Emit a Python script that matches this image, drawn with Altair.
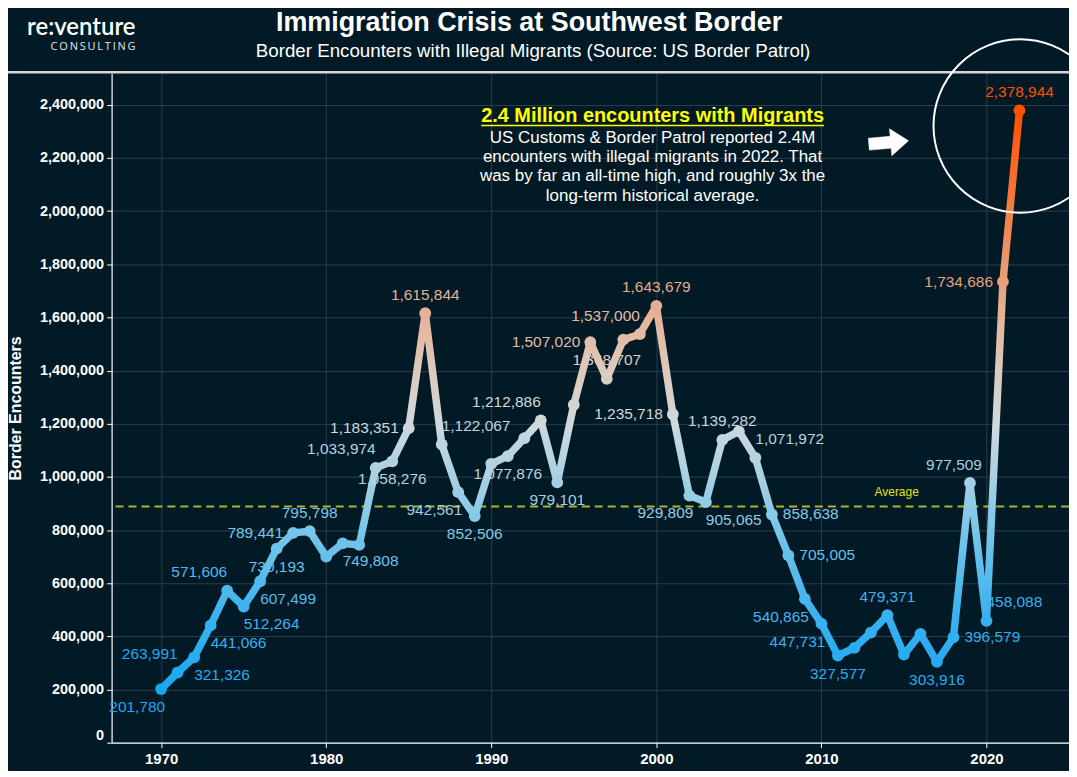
import altair as alt
import pandas as pd

# ---------------- data ----------------
years = list(range(1970, 2023))
encounters = [
    201780, 263991, 321326, 441066, 571606, 512264, 607499, 730193, 789441, 795798,
    700000, 749808, 744000, 1033974, 1058276, 1183351, 1615844, 1122067, 942561, 852506,
    1049321, 1077876, 1145574, 1212886, 979101, 1271390, 1507020, 1368707, 1516680, 1537000,
    1643679, 1235718, 929809, 905065, 1139282, 1171396, 1071972, 858638, 705005, 540865,
    447731, 327577, 356873, 414397, 479371, 331333, 408870, 303916, 396579, 977509,
    458088, 1734686, 2378944,
]
# where each value label sits relative to its point ("" = no label)
label_pos = [
    "bl", "tl", "br", "br", "tl", "br", "br", "b", "l", "t",
    "", "br", "", "tl", "b", "l", "t", "tr", "bl", "b",
    "", "b", "", "tl", "b", "", "l", "t", "", "tl",
    "t", "l", "bl", "br", "t", "", "tr", "r", "r", "bl",
    "bl", "b", "", "", "t", "", "", "b", "r", "tc",
    "tr", "l", "t",
]
y_ticks = list(range(0, 2400001, 200000))
x_ticks = list(range(1970, 2021, 10))

color_values = [200000, 500000, 800000, 1000000, 1200000, 1400000, 1600000, 1750000, 2000000, 2380000]
color_hex = ["#1aa7f2", "#3db3ef", "#79c6ea", "#a9d0e2", "#cfd9dd", "#ddcabc",
             "#e5b49b", "#ea9f77", "#f17f46", "#ff4f00"]

title_text = "Immigration Crisis at Southwest Border"
subtitle_text = "Border Encounters with Illegal Migrants (Source: US Border Patrol)"
note_title = "2.4 Million encounters with Migrants"
note_lines = [
    "US Customs & Border Patrol reported 2.4M",
    "encounters with illegal migrants in 2022. That",
    "was by far an all-time high, and roughly 3x the",
    "long-term historical average.",
]

# ---------------- build ----------------
BG = "#021a25"
FONT = "Liberation Sans"

df = pd.DataFrame({"year": years, "value": encounters, "pos": label_pos})
avg_value = sum(encounters) / len(encounters)
avg_df = pd.DataFrame({"value": [avg_value]})
one = pd.DataFrame({"a": [0]})

x_enc = alt.X(
    "year:Q",
    scale=alt.Scale(domain=[1967, 2025], nice=False, zero=False),
    axis=alt.Axis(values=x_ticks, format="d", title=None, labelFont=FONT, labelFontWeight="bold",
                  labelFontSize=15, labelColor="white", domainColor="white", domainWidth=1.2,
                  tickColor="white", tickSize=5, labelPadding=4, gridColor="#2c3e47",
                  gridWidth=1, grid=True, labelFlush=False),
)
y_enc = alt.Y(
    "value:Q",
    scale=alt.Scale(domain=[0, 2519000], nice=False, zero=True),
    axis=alt.Axis(values=y_ticks, format=",d", title="Border Encounters", labelFont=FONT,
                  labelFontWeight="bold", labelFontSize=14.5, labelColor="white",
                  domainColor="white", domainWidth=1.2, tickColor="white", tickSize=5,
                  labelPadding=3, gridColor="#2c3e47", gridWidth=1, grid=True,
                  labelFlush=True, titleFont=FONT, titleFontSize=16, titleFontWeight="bold",
                  titleColor="white", titlePadding=16),
)

cscale = alt.Scale(domain=color_values, range=color_hex, interpolate="rgb")

vmin, vmax = min(encounters), max(encounters)
stops = []
for v, c in zip(color_values, color_hex):
    off = (v - vmin) / (vmax - vmin)
    off = max(0.0, min(1.0, off))
    stops.append(alt.GradientStop(color=c, offset=off))
grad = alt.Gradient(gradient="linear", stops=stops, x1=0, x2=0, y1=1, y2=0)

layers = []

# header separator
layers.append(alt.Chart(one).mark_rule(color="#d6d6d6", strokeWidth=2.5).encode(
    x=alt.value(-110), x2=alt.value(1000), y=alt.value(-1)))

# average line
layers.append(alt.Chart(avg_df).mark_rule(color="#aeb32a", strokeWidth=2, strokeDash=[8, 5]).encode(
    y=y_enc))
layers.append(alt.Chart(avg_df).mark_text(text="Average", color="#e3e31c", font=FONT,
                                          fontSize=12, dy=-14).encode(
    x=alt.value(788), y=y_enc))

# line
layers.append(alt.Chart(df).mark_line(stroke=grad, strokeWidth=7.5, strokeCap="round",
                                      strokeJoin="round").encode(x=x_enc, y=y_enc))
# points
layers.append(alt.Chart(df).mark_circle(size=140, opacity=1).encode(
    x=x_enc, y=y_enc, color=alt.Color("value:Q", scale=cscale, legend=None)))

# value labels
placements = {
    "t": ("center", 0, -18.5),
    "tc": ("center", -16, -17.5),
    "b": ("center", 0, 18),
    "l": ("right", -10, 0),
    "r": ("left", 11, 0),
    "tl": ("right", 0, -18.5),
    "tr": ("left", 0, -18.5),
    "bl": ("right", 4, 18),
    "br": ("left", 0, 18),
}
for key, (al, dx, dy) in placements.items():
    layers.append(
        alt.Chart(df).transform_filter(alt.datum.pos == key)
        .mark_text(align=al, baseline="middle", dx=dx, dy=dy, font=FONT, fontSize=15.5)
        .encode(x=x_enc, y=y_enc, text=alt.Text("value:Q", format=","),
                color=alt.Color("value:Q", scale=cscale, legend=None))
    )

# header texts
layers.append(alt.Chart(one).mark_text(text=title_text, font=FONT, fontSize=27, fontWeight="bold",
                                       color="white", align="center", baseline="middle").encode(
    x=alt.value(419), y=alt.value(-50)))
layers.append(alt.Chart(one).mark_text(text=subtitle_text, font=FONT, fontSize=18.8,
                                       color="white", align="center", baseline="middle").encode(
    x=alt.value(423), y=alt.value(-22)))
layers.append(alt.Chart(one).mark_text(text="re:venture", font="Lato", fontSize=24, fontWeight=600,
                                       color="white", align="right", baseline="middle").encode(
    x=alt.value(24), y=alt.value(-45.5)))
layers.append(alt.Chart(one).mark_text(text="\u2009".join("CONSULTING"), font="Open Sans",
                                       fontSize=11, color="#e6e6e6", align="right",
                                       baseline="middle").encode(
    x=alt.value(24), y=alt.value(-26.5)))

# annotation
layers.append(alt.Chart(one).mark_text(text=note_title, font=FONT, fontSize=20, fontWeight="bold",
                                       color="#ffff00", align="center", baseline="middle").encode(
    x=alt.value(543), y=alt.value(43)))
layers.append(alt.Chart(one).mark_rule(color="#ffff00", strokeWidth=1.5).encode(
    x=alt.value(371), x2=alt.value(715), y=alt.value(52.5)))
for i, line in enumerate(note_lines):
    layers.append(alt.Chart(one).mark_text(text=line, font=FONT, fontSize=17,
                                           color="white", align="center", baseline="middle").encode(
        x=alt.value(543), y=alt.value(64.7 + i * 19.45)))

# circle and arrow
layers.append(alt.Chart(one).mark_point(shape="circle", size=174 * 174, filled=False,
                                        stroke="white", strokeWidth=2, opacity=1).encode(
    x=alt.value(912), y=alt.value(53)))
arrow = "M-1,-0.3 L0.1,-0.3 L0.1,-0.675 L1,0 L0.1,0.675 L0.1,0.3 L-1,0.3 Z"
layers.append(alt.Chart(one).mark_point(shape=arrow, size=1600, filled=True, fill="white",
                                        stroke="white", strokeWidth=0.5, opacity=1, angle=355).encode(
    x=alt.value(780), y=alt.value(69.5)))

chart = alt.layer(*layers).properties(
    width=961, height=672,
    padding={"left": 104, "top": 64, "right": 0, "bottom": 27},
    autosize=alt.AutoSizeParams(type="none"),
).configure(background=BG).configure_view(stroke=None)

chart.save("out.html", embed_options={"renderer": "svg", "actions": False})
